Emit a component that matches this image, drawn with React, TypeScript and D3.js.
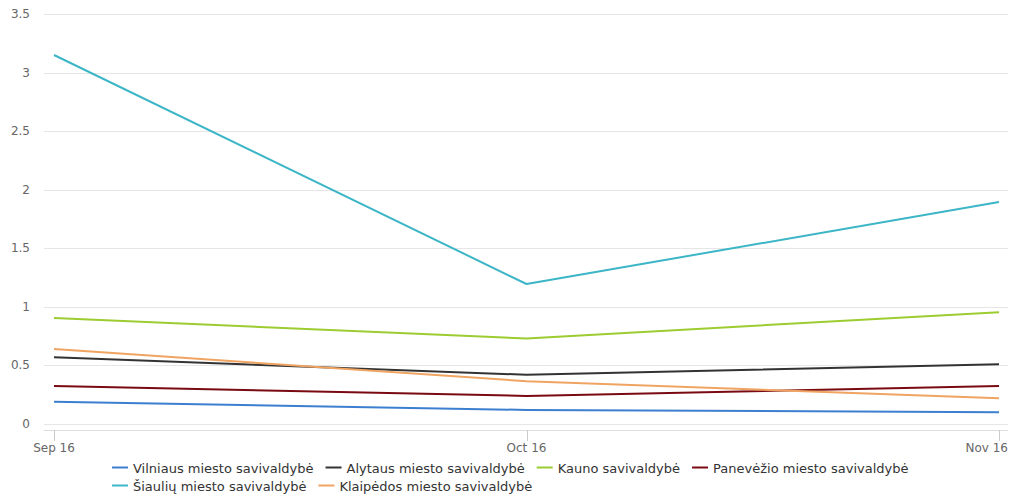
import React, { useEffect, useRef } from "react";
import * as d3 from "d3";

const categories = ["Sep 16", "Oct 16", "Nov 16"];
const seriesNames = [
  "Vilniaus miesto savivaldybė",
  "Alytaus miesto savivaldybė",
  "Kauno savivaldybė",
  "Panevėžio miesto savivaldybė",
  "Šiaulių miesto savivaldybė",
  "Klaipėdos miesto savivaldybė",
];
const vilnius = [0.19, 0.12, 0.1];
const alytus = [0.57, 0.42, 0.51];
const kaunas = [0.905, 0.73, 0.955];
const panevezys = [0.325, 0.24, 0.325];
const siauliai = [3.15, 1.195, 1.895];
const klaipeda = [0.64, 0.365, 0.22];
const seriesValues = [vilnius, alytus, kaunas, panevezys, siauliai, klaipeda];
const colors = ["#3c7fd0", "#333333", "#9ccc30", "#7a0a12", "#3cb6c6", "#f0a462"];
const yTicks = [0, 0.5, 1, 1.5, 2, 2.5, 3, 3.5];

const W = 1014;
const H = 495;
const FONT = "'DejaVu Sans', sans-serif";

export default function App() {
  const ref = useRef<SVGSVGElement>(null);
  useEffect(() => {
    const svg = d3.select(ref.current);
    svg.selectAll("*").remove();
    const x = d3.scalePoint<string>().domain(categories).range([54, 999]);
    const y = d3.scaleLinear().domain([0, 3.5]).range([424, 14]);

    const g = svg.append("g");
    // grid
    g.selectAll("line.grid")
      .data(yTicks)
      .join("line")
      .attr("x1", 44)
      .attr("x2", 1008)
      .attr("y1", (d) => Math.round(y(d)) + 0.5)
      .attr("y2", (d) => Math.round(y(d)) + 0.5)
      .attr("stroke", "#e6e6e6")
      .attr("stroke-width", 1);
    g.selectAll("text.ylab")
      .data(yTicks)
      .join("text")
      .attr("x", 30)
      .attr("y", (d) => y(d) + 4)
      .attr("text-anchor", "end")
      .attr("font-family", FONT)
      .attr("font-size", 12)
      .attr("fill", "#666")
      .text((d) => String(d));
    // x axis
    g.append("line")
      .attr("x1", 44)
      .attr("x2", 1008)
      .attr("y1", 430.5)
      .attr("y2", 430.5)
      .attr("stroke", "#dddddd");
    g.selectAll("line.xt")
      .data(categories)
      .join("line")
      .attr("x1", (d) => Math.round(x(d)!) + 0.5)
      .attr("x2", (d) => Math.round(x(d)!) + 0.5)
      .attr("y1", 430)
      .attr("y2", 441)
      .attr("stroke", "#cccccc");
    const xl = g
      .selectAll("text.xl")
      .data(categories)
      .join("text")
      .attr("x", (d) => x(d)!)
      .attr("y", 452)
      .attr("text-anchor", "middle")
      .attr("font-family", FONT)
      .attr("font-size", 12)
      .attr("fill", "#666")
      .text((d) => d);
    xl.each(function (d) {
      const el = this as SVGTextElement;
      const w = el.getComputedTextLength();
      const cx = x(d)!;
      if (cx + w / 2 > 1008) {
        d3.select(el).attr("x", 1008 - w / 2);
      }
    });

    const line = d3
      .line<number>()
      .x((_, i) => x(categories[i])!)
      .y((d) => y(d));
    seriesValues.forEach((vals, i) => {
      g.append("path")
        .attr("d", line(vals)!)
        .attr("fill", "none")
        .attr("stroke", colors[i])
        .attr("stroke-width", 2)
        .attr("stroke-linejoin", "round");
    });

    // legend
    const rows = [[0, 1, 2, 3], [4, 5]];
    const rowY = [468, 486];
    rows.forEach((row, ri) => {
      let cx = 112;
      row.forEach((si) => {
        const lg = g.append("g");
        lg.append("line")
          .attr("x1", cx)
          .attr("x2", cx + 16)
          .attr("y1", rowY[ri] - 0.5)
          .attr("y2", rowY[ri] - 0.5)
          .attr("stroke", colors[si])
          .attr("stroke-width", 2);
        const t = lg
          .append("text")
          .attr("x", cx + 21)
          .attr("y", rowY[ri] + 4.5)
          .attr("font-family", FONT)
          .attr("font-size", 13)
          .attr("fill", "#333")
          .text(seriesNames[si]);
        const w = (t.node() as SVGTextElement).getComputedTextLength();
        cx += 21 + w + 12;
      });
    });
  }, []);
  return <svg ref={ref} width={W} height={H} style={{ position: "absolute", left: 0, top: 0 }} />;
}
